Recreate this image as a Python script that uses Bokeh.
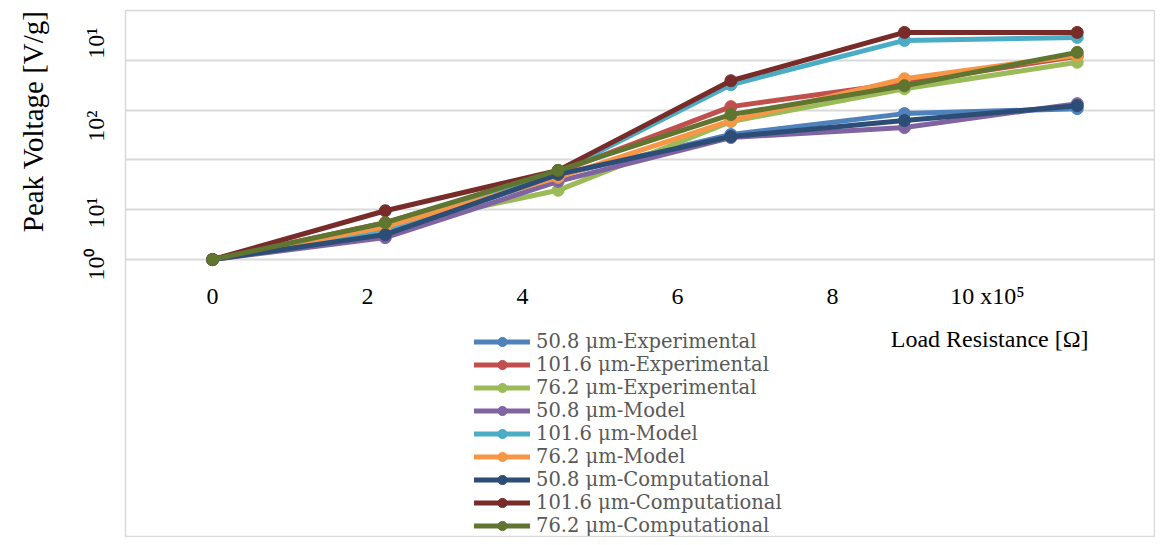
import math
from bokeh.plotting import figure
from bokeh.models import (FixedTicker, Label, Legend, LegendItem, Range1d,
                          ColumnDataSource, Title)
from bokeh.core.properties import value
from bokeh.embed import file_html
from bokeh.resources import INLINE

# ---- data (load resistance in 1e5 ohm; y in plotted decade units) ----
load_resistance = [0, 2.23, 4.46, 6.69, 8.93, 11.16]

exp_508 = [0, 0.52, 1.69, 2.51, 2.93, 3.03]
exp_1016 = [0, 0.74, 1.75, 3.07, 3.55, 4.08]
exp_762 = [0, 0.66, 1.39, 2.77, 3.43, 3.96]
model_508 = [0, 0.44, 1.57, 2.45, 2.65, 3.13]
model_1016 = [0, 0.62, 1.75, 3.51, 4.40, 4.46]
model_762 = [0, 0.66, 1.65, 2.79, 3.63, 4.10]
comp_508 = [0, 0.50, 1.71, 2.47, 2.79, 3.09]
comp_1016 = [0, 0.98, 1.79, 3.59, 4.56, 4.56]
comp_762 = [0, 0.74, 1.79, 2.91, 3.49, 4.16]

series_names = [
    "50.8 μm-Experimental", "101.6 μm-Experimental", "76.2 μm-Experimental",
    "50.8 μm-Model", "101.6 μm-Model", "76.2 μm-Model",
    "50.8 μm-Computational", "101.6 μm-Computational", "76.2 μm-Computational",
]
series_values = [exp_508, exp_1016, exp_762, model_508, model_1016, model_762,
                 comp_508, comp_1016, comp_762]
series_colors = ["#4F81BD", "#C0504D", "#9BBB59", "#8064A2", "#4BACC6",
                 "#F79646", "#2C4D75", "#772C2A", "#5F7530"]

x_tick_values = [0, 2, 4, 6, 8, 10]
x_tick_labels = ["0", "2", "4", "6", "8", "10 x10⁵"]
y_tick_values = [0.22, 1.25, 2.99, 4.66]
y_tick_labels = ["10⁰", "10¹", "10²", "10¹"]
y_grid_values = [0, 1, 2, 3, 4, 5]

SERIF = "Liberation Serif"
LEGEND_FONT = "DejaVu Serif"

p = figure(width=1155, height=537, output_backend="svg", toolbar_location=None,
           x_range=Range1d(-1.123, 12.17), y_range=Range1d(-5.58, 5.0),
           min_border_left=125, min_border_top=10, min_border_bottom=0,
           min_border_right=0)
p.background_fill_color = "white"
p.border_fill_color = "white"
p.outline_line_color = "#D9D9D9"
p.outline_line_width = 1.5

p.xaxis.visible = False
p.xgrid.visible = False
p.ygrid.ticker = FixedTicker(ticks=y_grid_values)
p.ygrid.grid_line_color = "#D9D9D9"
p.ygrid.grid_line_width = 2

yax = p.yaxis[0]
yax.ticker = FixedTicker(ticks=y_tick_values)
yax.major_label_overrides = {v: t for v, t in zip(y_tick_values, y_tick_labels)}
yax.major_label_orientation = math.pi / 2
yax.major_label_text_font = SERIF
yax.major_label_text_font_size = "24px"
yax.major_label_text_color = "black"
yax.major_label_standoff = 23
yax.axis_line_color = None
yax.major_tick_line_color = None
yax.minor_tick_line_color = None

items = []
for name, vals, col in zip(series_names, series_values, series_colors):
    src = ColumnDataSource(dict(x=load_resistance, y=vals))
    r1 = p.line("x", "y", source=src, line_color=col, line_width=5,
                line_join="round", line_cap="round")
    r2 = p.scatter("x", "y", source=src, size=12, fill_color=col,
                   line_color=col)
    items.append(LegendItem(label=name, renderers=[r1, r2]))

legend = Legend(items=items, location=(349, 0), padding=0, margin=0,
                spacing=0, glyph_width=56, glyph_height=23, label_height=23,
                label_standoff=6, label_text_font=LEGEND_FONT,
                label_text_font_size="19.5px", label_text_color="#595959",
                background_fill_alpha=0, border_line_alpha=0)
p.add_layout(legend, "center")

# x tick labels drawn inside the frame
tsrc = ColumnDataSource(dict(x=x_tick_values, y=[-0.74] * len(x_tick_values),
                             t=x_tick_labels))
p.text("x", "y", text="t", source=tsrc, text_font=value(SERIF),
       text_font_size="24px", text_align="center", text_baseline="middle",
       text_color="black")

p.add_layout(Label(x=10.03, y=-1.59, text="Load Resistance [Ω]",
                   text_font=SERIF, text_font_size="24px",
                   text_align="center", text_baseline="middle",
                   text_color="black"))
p.add_layout(Title(text="Peak Voltage [V/g]", align="right",
                   vertical_align="top",
                   text_font=SERIF, text_font_size="29px",
                   text_font_style="normal", text_color="black",
                   standoff=33), "left")

open("out.html", "w").write(file_html(p, INLINE))
